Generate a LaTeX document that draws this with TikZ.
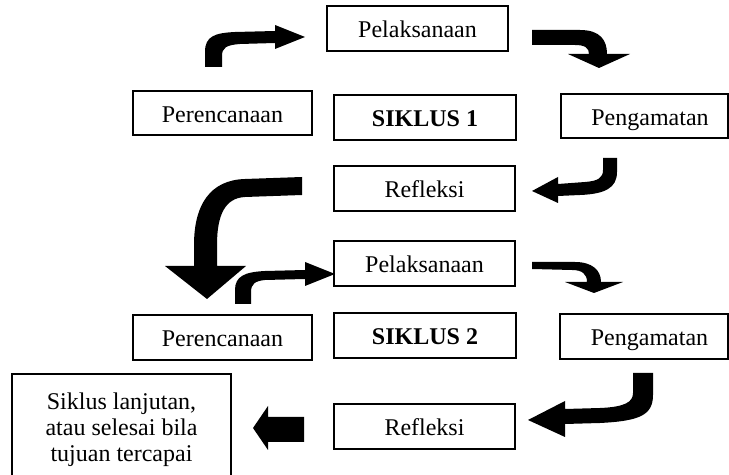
\documentclass[tikz,border=0pt]{standalone}
\usepackage{fontspec}
\setmainfont{Liberation Serif}
\begin{document}
\begin{tikzpicture}[x=0.5pt,y=-0.5pt,
  box/.style={draw,line width=0.8pt,inner sep=0pt,minimum height=22.5pt,
    text height=11pt,text depth=1.5pt,font=\fontsize{12}{14}\selectfont},
  blockarrow/.style={fill=black}]
\useasboundingbox (0,0) rectangle (729,475);
\clip (0,0) rectangle (729,475);
% boxes
\node[box,minimum width=90.5pt] (pel1) at (417.5,28.5) {Pelaksanaan};
\node[box,minimum width=89.5pt,minimum height=22pt] (per1) at (222.5,113) {Perencanaan};
\node[box,minimum width=91pt] (sik1) at (425,117.5) {\textbf{SIKLUS 1}};
\node[box,minimum width=83.5pt,minimum height=22pt] (pen1) at (644.5,116) {\hspace*{5.5pt}Pengamatan};
\node[box,minimum width=90.5pt] (ref1) at (424.5,188.5) {Refleksi};
\node[box,minimum width=90.5pt] (pel2) at (424.5,263.5) {Pelaksanaan};
\node[box,minimum width=89.5pt] (per2) at (222.5,337.5) {Perencanaan};
\node[box,minimum width=91pt] (sik2) at (425,335.5) {\textbf{SIKLUS 2}};
\node[box,minimum width=84pt] (pen2) at (644,336.5) {\hspace*{5.5pt}Pengamatan};
\node[box,minimum width=90.5pt] (ref2) at (424.5,426.5) {Refleksi};
\node[draw,line width=0.8pt,inner sep=0pt,minimum width=109.5pt,minimum height=53pt] (sl) at (121.5,427) {};
\node[inner sep=0pt,anchor=north,align=center,font=\fontsize{12}{13}\selectfont] (sltext) at (121.5,392) {Siklus lanjutan,\\atau selesai bila\\tujuan tercapai};
% block arrows
% 1: up then right into Pelaksanaan 1
\fill[blockarrow] (205,67) -- (205,52) .. controls (205,36) and (215,33) .. (235,32) -- (275,31) -- (275,25) -- (305,37) -- (275,49) -- (275,43) -- (240,44) .. controls (226,45) and (222,48) .. (222,56) -- (222,67) -- cycle;
% 2: right then down toward Pengamatan 1
\fill[blockarrow] (532,30) -- (580,30) .. controls (600,30) and (607,40) .. (607,54) -- (630,54) -- (599,68) -- (568,54) -- (589,54) .. controls (589,48) and (585,45) .. (575,45) -- (532,45) -- cycle;
% 3: down then left into Refleksi 1
\fill[blockarrow] (603,158) -- (617,158) -- (617,172) .. controls (617,188) and (605,194) .. (580,195) -- (558,196) -- (558,203) -- (532,191) -- (558,177) -- (558,184) -- (585,182) .. controls (598,181) and (603,178) .. (603,170) -- cycle;
% 4: big arrow from Refleksi 1 to Perencanaan 2
\fill[blockarrow] (302,177) -- (245,179) .. controls (210,180) and (194,205) .. (194,245) -- (194,266) -- (165,266) -- (207,299) -- (246,266) -- (217,266) -- (217,245) .. controls (217,215) and (225,198) .. (245,197) -- (302,195) -- cycle;
% 5: up then right into Pelaksanaan 2
\fill[blockarrow] (235,304) -- (235,290) .. controls (235,276) and (245,272) .. (265,271) -- (305,270) -- (305,262) -- (335,274) -- (305,286) -- (305,279) -- (265,280) .. controls (255,281) and (251,284) .. (251,292) -- (251,304) -- cycle;
% 6: right then down toward Pengamatan 2
\fill[blockarrow] (532,262) -- (575,262) .. controls (592,262) and (601,270) .. (601,282) -- (623,282) -- (594,293) -- (565,282) -- (587,282) .. controls (587,274) and (582,270) .. (572,270) -- (532,269) -- cycle;
% 7: down then left into Refleksi 2
\fill[blockarrow] (633,373) -- (653,373) -- (653,395) .. controls (653,415) and (640,421) .. (600,423) -- (565,424) -- (565,437) -- (528,420) -- (565,401) -- (565,409) -- (600,408) .. controls (625,407) and (633,402) .. (633,393) -- cycle;
% 8: straight left arrow toward Siklus lanjutan
\fill[blockarrow] (304,417) -- (268,417) -- (268,406) -- (253,428) -- (268,450) -- (268,442) -- (304,442) -- cycle;
\end{tikzpicture}
\end{document}
